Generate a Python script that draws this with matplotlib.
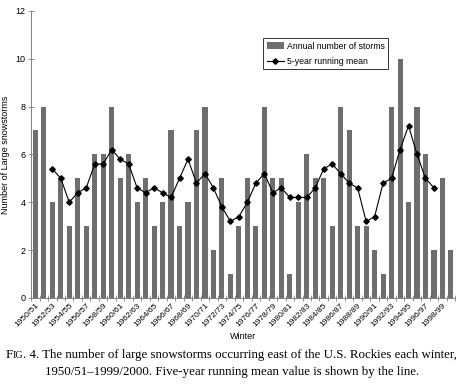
import numpy as np
import matplotlib.pyplot as plt

# winters 1950/51 .. 1999/2000
winters = ['%d/%02d' % (y, (y + 1) % 100) for y in range(1950, 2000)]
storms = [7, 8, 4, 5, 3, 5, 3, 6, 6, 8,
          5, 6, 4, 5, 3, 4, 7, 3, 4, 7,
          8, 2, 5, 1, 3, 5, 3, 8, 5, 5,
          1, 4, 6, 5, 5, 3, 8, 7, 3, 3,
          2, 1, 8, 10, 4, 8, 6, 2, 5, 2]
# 5-year running mean, centred (first at 1952/53, last at 1997/98)
run_mean = [5.4, 5.0, 4.0, 4.4, 4.6, 5.6, 5.6, 6.2, 5.8, 5.6,
            4.6, 4.4, 4.6, 4.4, 4.2, 5.0, 5.8, 4.8, 5.2, 4.6,
            3.8, 3.2, 3.4, 4.0, 4.8, 5.2, 4.4, 4.6, 4.2, 4.2,
            4.2, 4.6, 5.4, 5.6, 5.2, 4.8, 4.6, 3.2, 3.4, 4.8,
            5.0, 6.2, 7.2, 6.0, 5.0, 4.6]

plt.rcParams['font.family'] = ['Liberation Sans', 'DejaVu Sans']
gray = '#808080'

fig = plt.figure(figsize=(4.64, 3.86), dpi=100)
ax = fig.add_axes([0.067, 0.228, 0.914, 0.744])

x = np.arange(len(storms))
bars = ax.bar(x, storms, width=0.6, color='#6e6e6e', label='Annual number of storms')
xm = np.arange(2, 2 + len(run_mean))
line, = ax.plot(xm, run_mean, color='black', lw=0.8, marker='D', ms=2.8,
                label='5-year running mean')

ax.set_xlim(-0.5, len(storms) - 0.5)
ax.set_ylim(0, 12)
ax.set_yticks(range(0, 13, 2))
ax.tick_params(axis='y', labelsize=6.5, direction='inout', length=4,
               width=0.6, color=gray, pad=2)
ax.set_xticks(x[::2])
ax.set_xticklabels(winters[::2], rotation=45, ha='right',
                   rotation_mode='anchor', fontsize=6)
ax.set_xticks(np.arange(-0.5, len(storms)), minor=True)
ax.tick_params(axis='x', which='major', length=0, pad=3)
ax.tick_params(axis='x', which='minor', direction='inout', length=4,
               width=0.6, color=gray)
for s in ['top', 'right']:
    ax.spines[s].set_visible(False)
for s in ['left', 'bottom']:
    ax.spines[s].set_color(gray)
    ax.spines[s].set_linewidth(0.7)

ax.set_ylabel('Number of Large snowstorms', fontsize=6.5, labelpad=4)
ax.set_xlabel('Winter', fontsize=6.5, labelpad=2)

leg = ax.legend([bars, line], ['Annual number of storms', '5-year running mean'],
                loc='upper left', bbox_to_anchor=(0.548, 0.905), fontsize=6.3,
                frameon=True, fancybox=False, handlelength=1.9,
                borderpad=0.4, labelspacing=0.7, handletextpad=0.4,
                borderaxespad=0)
leg.get_frame().set_edgecolor('black')
leg.get_frame().set_linewidth(0.7)

# caption
serif = ['Liberation Serif', 'DejaVu Serif']
fig.canvas.draw()
r = fig.canvas.get_renderer()
y1 = 1 - 358 / 386
t = fig.text(0.012, y1, 'F', family=serif, fontsize=9.3, va='baseline')
ext = t.get_window_extent(r)
t2 = fig.text(ext.x1 / fig.bbox.width, y1, 'IG', family=serif, fontsize=7.2,
              va='baseline')
ext = t2.get_window_extent(r)
fig.text(ext.x1 / fig.bbox.width, y1,
         '. 4. The number of large snowstorms occurring east of the U.S. Rockies each winter,',
         family=serif, fontsize=9.3, va='baseline')
fig.text(0.5, 1 - 375 / 386,
         '1950/51\u20131999/2000. Five-year running mean value is shown by the line.',
         family=serif, fontsize=9.3, va='baseline', ha='center')

fig.savefig('out.png', dpi=100)
